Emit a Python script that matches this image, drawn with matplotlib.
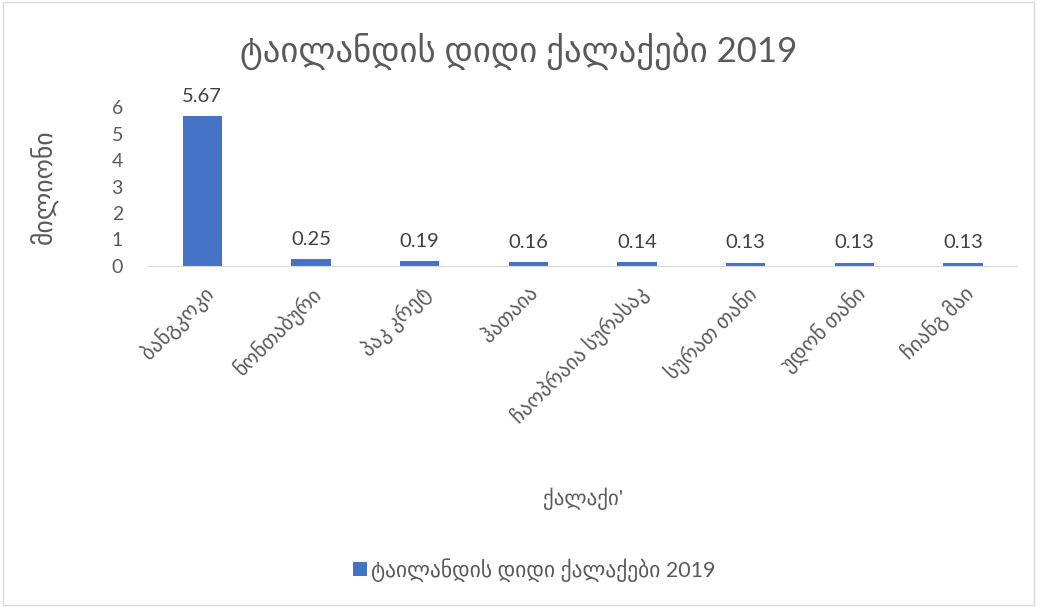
import matplotlib.pyplot as plt
from matplotlib.patches import Rectangle

# ტაილანდის დიდი ქალაქები, მილიონი მოსახლე
qalaqebi = ['ბანგკოკი', 'ნონთაბური', 'პაკ კრეტ', 'ჰათაია',
            'ჩაოპრაია სურასაკ', 'სურათ თანი', 'უდონ თანი', 'ჩიანგ მაი']
mosakhleoba = [5.67, 0.25, 0.19, 0.16, 0.14, 0.13, 0.13, 0.13]
y_ticks = [0, 1, 2, 3, 4, 5, 6]

satauri = 'ტაილანდის დიდი ქალაქები 2019'
grey = '#595959'
blue = '#4472c4'
fam = ['Lato', 'DejaVu Sans']

plt.rcParams['font.family'] = fam

fig = plt.figure(figsize=(10.37, 6.07), dpi=100)
fig.patches.append(Rectangle((0.003, 0.003), 0.994, 0.994, transform=fig.transFigure,
                             fill=False, edgecolor='#d9d9d9', linewidth=1))
ax = fig.add_axes([0.1427, 0.5618, 0.8383, 0.2619])

x = range(len(qalaqebi))
bars = ax.bar(x, mosakhleoba, width=0.36, color=blue, label=satauri)
for b, v in zip(bars, mosakhleoba):
    ax.text(b.get_x() + b.get_width() / 2, v + 0.42, f'{v:.2f}', ha='center', va='bottom',
            fontsize=14.5, color='#404040')

ax.set_xlim(-0.5, len(qalaqebi) - 0.5)
ax.set_ylim(0, 6)
ax.set_yticks(y_ticks)
ax.set_xticks(list(x))
ax.set_xticklabels(qalaqebi, rotation=45, ha='right', rotation_mode='anchor',
                   fontsize=15, color=grey)
ax.tick_params(axis='y', labelsize=14, labelcolor=grey, length=0, pad=18)
ax.tick_params(axis='x', length=0, pad=12)
for s in ['top', 'right', 'left']:
    ax.spines[s].set_visible(False)
ax.spines['bottom'].set_color('#d9d9d9')

ax.set_ylabel('მილიონი', fontsize=18.5, color=grey, labelpad=38)
ax.set_xlabel("ქალაქი'", fontsize=15, color=grey, labelpad=43)
fig.text(0.5, 0.915, satauri, ha='center', va='center', fontsize=25, color=grey)

fig.legend(loc='lower center', bbox_to_anchor=(0.515, 0.01), frameon=False,
           fontsize=15.5, handlelength=0.65, handleheight=0.65, handletextpad=0.2,
           labelcolor=grey)

fig.savefig('out.png', dpi=100)
